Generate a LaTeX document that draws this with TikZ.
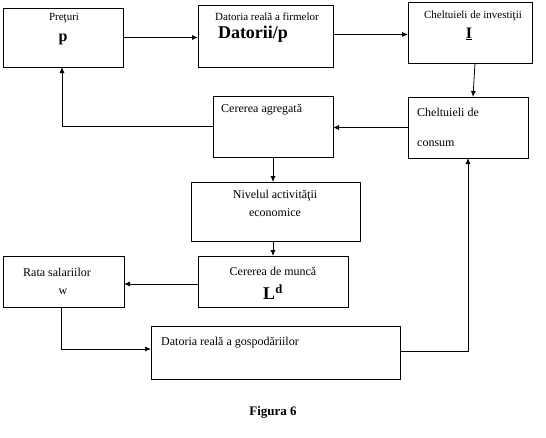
\documentclass[tikz,border=0pt]{standalone}
\usepackage{fontspec}
\setmainfont{Liberation Serif}
\usetikzlibrary{arrows.meta}
\begin{document}
\begin{tikzpicture}[x=1pt,y=-1pt,
  box/.style={draw,line width=0.8pt,inner sep=0pt,outer sep=0pt},
  arr/.style={line width=0.8pt,-{Latex[length=6pt,width=5pt]}},
  txt/.style={inner sep=0pt,font=\fontsize{12}{14}\selectfont},
  small/.style={inner sep=0pt,font=\fontsize{11}{13}\selectfont},
  big/.style={inner sep=0pt,font=\fontsize{16}{18}\selectfont\bfseries}]
\useasboundingbox (0,0) rectangle (546,437);
% boxes
\node[box,minimum width=120pt,minimum height=59pt] (pret) at (63,37.5) {};
\node[box,minimum width=135pt,minimum height=62pt] (dfirm) at (265.5,36) {};
\node[box,minimum width=124pt,minimum height=61pt] (inv) at (470,32.5) {};
\node[box,minimum width=120pt,minimum height=61pt] (cer) at (273,126.5) {};
\node[box,minimum width=120pt,minimum height=61pt] (cons) at (468,127.5) {};
\node[box,minimum width=169pt,minimum height=59pt] (niv) at (275.5,211.5) {};
\node[box,minimum width=150pt,minimum height=51pt] (munca) at (273,281.5) {};
\node[box,minimum width=121pt,minimum height=51pt] (rata) at (63.5,281.5) {};
\node[box,minimum width=249pt,minimum height=53pt] (gosp) at (275.5,352.5) {};
% texts
\node[small] (t1) at (64,18) {Preţuri};
\node[big] (t1b) at (63,39) {p};
\node[small] (t2) at (267,17) {Datoria reală a firmelor};
\node[big,font=\fontsize{18}{20}\selectfont\bfseries] (t2b) at (253,34) {Datorii/p};
\node[small] (t3) at (473,16) {Cheltuieli de investiţii};
\node[big] (t3b) at (469,34) {\underline{I}};
\node[txt,anchor=west] (t4) at (221,110) {Cererea agregată};
\node[txt,anchor=west] (t5) at (417,112) {Cheltuieli de};
\node[txt,anchor=west] (t5b) at (417,144) {consum};
\node[txt] (t6) at (275,196) {Nivelul activităţii};
\node[txt] (t6b) at (275,213) {economice};
\node[txt] (t7) at (57,272) {Rata salariilor};
\node[txt] (t7b) at (63,292) {w};
\node[txt] (t8) at (273,271) {Cererea de muncă};
\node[big,font=\fontsize{18}{20}\selectfont\bfseries] (t8b) at (273,292) {L\textsuperscript{d}};
\node[txt,anchor=west] (t9) at (161,343) {Datoria reală a gospodăriilor};
\node[inner sep=0pt,font=\fontsize{13}{15}\selectfont\bfseries] (fig) at (273,412) {Figura 6};
% connectors
\draw[arr] (pret.east) -- (pret.east -| dfirm.west);
\draw[arr] ([yshift=1.5pt]dfirm.east) -- ([yshift=1.5pt]dfirm.east -| inv.west);
\draw[arr] ([xshift=5pt]inv.south) -- ([xshift=5pt]cons.north);
\draw[arr] (cons.west) -- (cons.west -| cer.east);
\draw[arr] (cer.west) -| ([xshift=-1pt]pret.south);
\draw[arr] (cer.south) -- (cer.south |- niv.north);
\draw[arr] (niv.south -| munca.north) -- (munca.north);
\draw[arr] ([yshift=-2.5pt]munca.west) -- ([yshift=-2.5pt]munca.west -| rata.east);
\draw[arr] ([xshift=-2.5pt]rata.south) |- ([yshift=3.5pt]gosp.west);
\draw[arr] ([yshift=1pt]gosp.east) -| (cons.south);
\end{tikzpicture}
\end{document}
